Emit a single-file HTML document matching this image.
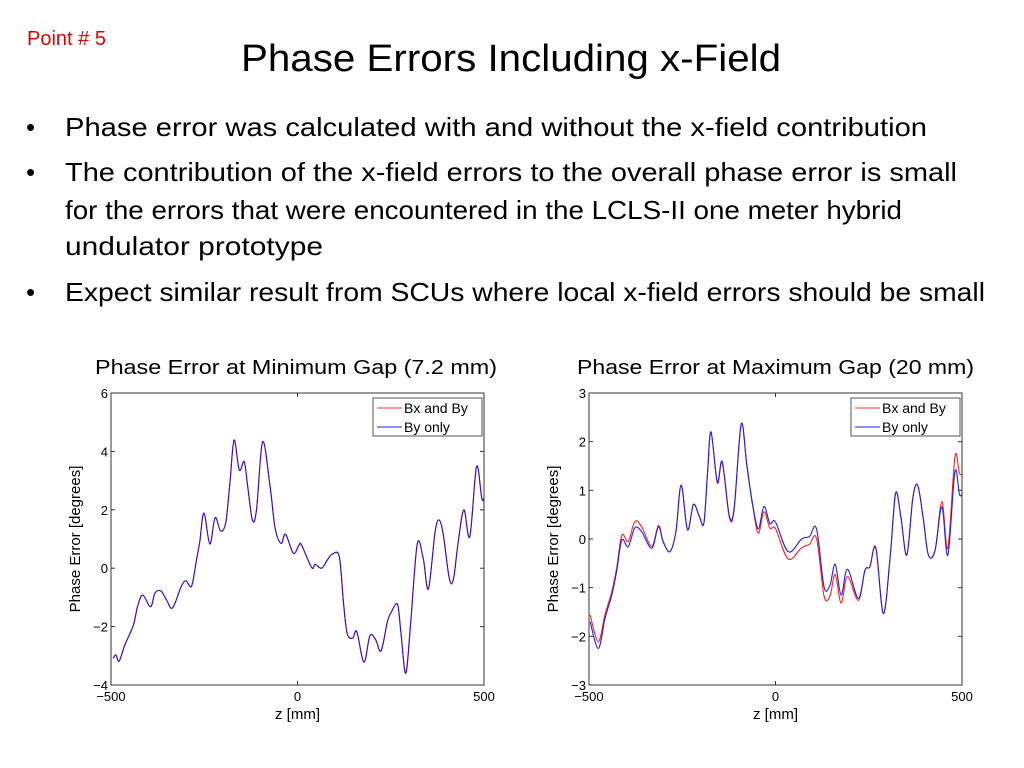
<!DOCTYPE html>
<html><head><meta charset="utf-8"><style>
html,body{margin:0;padding:0;background:#fff;width:1024px;height:768px;overflow:hidden}
svg text{font-family:"Liberation Sans",sans-serif}
</style></head><body>
<svg id="s" width="1024" height="768" xmlns="http://www.w3.org/2000/svg">
<text x="27" y="45" fill="#e00000" font-size="20">Point # 5</text>
<text x="511" y="71" text-anchor="middle" font-size="38" textLength="540" lengthAdjust="spacingAndGlyphs" fill="#000">Phase Errors Including x-Field</text>
<g font-size="26" fill="#000">
<text x="26" y="136">•</text>
<text x="65" y="136" textLength="862" lengthAdjust="spacingAndGlyphs">Phase error was calculated with and without the x-field contribution</text>
<text x="26" y="181">•</text>
<text x="65" y="181" textLength="892" lengthAdjust="spacingAndGlyphs">The contribution of the x-field errors to the overall phase error is small</text>
<text x="65" y="219" textLength="837" lengthAdjust="spacingAndGlyphs">for the errors that were encountered in the LCLS-II one meter hybrid</text>
<text x="65" y="255" textLength="258" lengthAdjust="spacingAndGlyphs">undulator prototype</text>
<text x="26" y="301">•</text>
<text x="65" y="301" textLength="920" lengthAdjust="spacingAndGlyphs">Expect similar result from SCUs where local x-field errors should be small</text>
</g>
<text x="95" y="374" font-size="20" textLength="402" lengthAdjust="spacingAndGlyphs">Phase Error at Minimum Gap (7.2 mm)</text>
<text x="577" y="374" font-size="20" textLength="397" lengthAdjust="spacingAndGlyphs">Phase Error at Maximum Gap (20 mm)</text>
<g id="c1"></g>
<g id="c2"></g>
</svg>
<script>
const z1=[-494,-487,-478,-463,-440,-429,-415,-394,-382,-366,-351,-335,-312,-299,-284,-270,-262,-251,-235,-221,-206,-192,-181,-170,-156,-143,-134,-121,-110,-93.5,-74,-60,-44,-32,-11,4,11,38,47,65,80,94,112,123,133,148,159,178,194,210,224,241,252,268,277,290,303,321,337,351,369,380,391,407,418,431,446,462,480,494,500];
const phase1=[-3.09,-2.97,-3.18,-2.63,-1.95,-1.32,-0.92,-1.32,-0.85,-0.78,-1.09,-1.36,-0.63,-0.43,-0.61,0.35,0.91,1.89,0.83,1.73,1.27,1.59,2.96,4.39,3.36,3.65,2.85,1.65,2.0,4.33,2.85,1.37,0.85,1.16,0.51,0.79,0.79,0.02,0.13,0.0,0.28,0.49,0.39,-1.15,-2.23,-2.40,-2.17,-3.22,-2.31,-2.46,-2.83,-1.83,-1.49,-1.24,-2.17,-3.60,-1.95,0.82,0.34,-0.71,1.25,1.65,1.14,-0.35,-0.38,0.91,2.0,1.08,3.48,2.39,2.4];
const z2=[-497,-475,-457,-439,-426,-412,-395,-377,-359,-332,-314,-301,-283,-267,-253,-236,-220,-204,-192,-182,-173,-156,-143,-124,-111,-92,-77,-61,-46,-31,-15,0,34,70,91,110,130,146,160,176,193,222,240,253,269,289,307,322,336,352,368,381,396,410,428,446,462,481,493,500];
const blue2=[-1.70,-2.25,-1.63,-1.15,-0.67,-0.02,-0.16,0.23,0.15,-0.19,0.25,-0.06,-0.26,0.15,1.11,0.19,0.71,0.46,0.33,1.38,2.2,1.18,1.59,0.49,0.63,2.36,1.52,0.70,0.21,0.67,0.32,0.35,-0.26,0.0,0.05,0.21,-0.98,-0.95,-0.52,-1.15,-0.62,-1.22,-0.64,-0.57,-0.19,-1.53,-0.40,0.94,0.46,-0.33,0.84,1.11,0.43,-0.33,-0.23,0.66,-0.33,1.38,0.92,0.92];
const red2=[-1.56,-2.11,-1.55,-1.08,-0.60,0.08,-0.05,0.36,0.25,-0.15,0.28,-0.05,-0.26,0.15,1.11,0.19,0.71,0.46,0.33,1.38,2.2,1.15,1.57,0.46,0.60,2.36,1.52,0.68,0.12,0.56,0.22,0.21,-0.41,-0.18,-0.11,0.01,-1.17,-1.17,-0.73,-1.32,-0.77,-1.26,-0.64,-0.57,-0.17,-1.53,-0.40,0.94,0.46,-0.33,0.84,1.11,0.43,-0.33,-0.23,0.77,-0.19,1.69,1.35,1.35];
const xTicks=[-500,0,500];
const yTicks1=[-4,-2,0,2,4,6];
const yTicks2=[-3,-2,-1,0,1,2,3];
const NS="http://www.w3.org/2000/svg";
function mk(tag,attrs,parent){const e=document.createElementNS(NS,tag);for(const k in attrs)e.setAttribute(k,attrs[k]);parent.appendChild(e);return e;}
function smooth(pts){let d="M"+pts[0][0].toFixed(1)+","+pts[0][1].toFixed(1);
 for(let i=0;i<pts.length-1;i++){const p0=pts[Math.max(0,i-1)],p1=pts[i],p2=pts[i+1],p3=pts[Math.min(pts.length-1,i+2)];
 const c1=[p1[0]+(p2[0]-p0[0])/6,p1[1]+(p2[1]-p0[1])/6],c2=[p2[0]-(p3[0]-p1[0])/6,p2[1]-(p3[1]-p1[1])/6];
 d+="C"+c1[0].toFixed(1)+","+c1[1].toFixed(1)+" "+c2[0].toFixed(1)+","+c2[1].toFixed(1)+" "+p2[0].toFixed(1)+","+p2[1].toFixed(1);}
 return d;}
function fmt(v){return v<0?"\u2212"+Math.abs(v):String(v);}
function chart(g,L,R,T,B,ymin,ymax,yt,series){
 const sx=v=>L+(v+500)/1000*(R-L), sy=v=>B-(v-ymin)/(ymax-ymin)*(B-T);
 const frame=mk("rect",{x:L,y:T,width:R-L,height:B-T,fill:"#fff",stroke:"#333","stroke-width":1},g);
 
 
 xTicks.forEach(v=>{const x=sx(v);
  mk("line",{x1:x,y1:B,x2:x,y2:B-4,stroke:"#333"},g);mk("line",{x1:x,y1:T,x2:x,y2:T+4,stroke:"#333"},g);
  const t=mk("text",{x:x,y:B+16,"text-anchor":"middle","font-size":13},g);t.textContent=fmt(v);
  
  });
 yt.forEach(v=>{const y=sy(v);
  mk("line",{x1:L,y1:y,x2:L+4,y2:y,stroke:"#333"},g);mk("line",{x1:R,y1:y,x2:R-4,y2:y,stroke:"#333"},g);
  const t=mk("text",{x:L-3,y:y+5,"text-anchor":"end","font-size":13},g);t.textContent=fmt(v);
  
  });
 series.forEach(s=>{const pts=s.z.map((z,i)=>[sx(z),sy(s.v[i])]);
  const p=mk("path",{d:smooth(pts),fill:"none",stroke:s.c,"stroke-width":1.1},g);
  
  });
 const xl=mk("text",{x:(L+R)/2,y:B+34,"text-anchor":"middle","font-size":15},g);xl.textContent="z [mm]";
 
 
 const yl=mk("text",{x:0,y:0,"text-anchor":"middle","font-size":15,transform:"translate("+(L-31)+","+((T+B)/2)+") rotate(-90)"},g);yl.textContent="Phase Error [degrees]";
 
 
 const lg=mk("g",{},g);
 
 
 mk("rect",{x:R-111,y:T+5,width:109,height:38,fill:"#fff",stroke:"#555"},lg);
 [["Bx and By","#ff3030",T+15],["By only","#2020d0",T+34]].forEach(e=>{
  mk("line",{x1:R-107,y1:e[2],x2:R-82,y2:e[2],stroke:e[1],"stroke-width":1.1},lg);
  const t=mk("text",{x:R-80,y:e[2]+5,"font-size":14},lg);t.textContent=e[0];
  
  });
}
chart(document.getElementById("c1"),111,484,393,685,-4,6,yTicks1,[{z:z1,v:phase1,c:"#ff3030",n:"series-bx-and-by"},{z:z1,v:phase1,c:"#3010d0",n:"series-by-only"}]);
chart(document.getElementById("c2"),589,962,393,685,-3,3,yTicks2,[{z:z2,v:red2,c:"#ff2020",n:"series-bx-and-by"},{z:z2,v:blue2,c:"#2020e0",n:"series-by-only"}]);
</script>
</body></html>
